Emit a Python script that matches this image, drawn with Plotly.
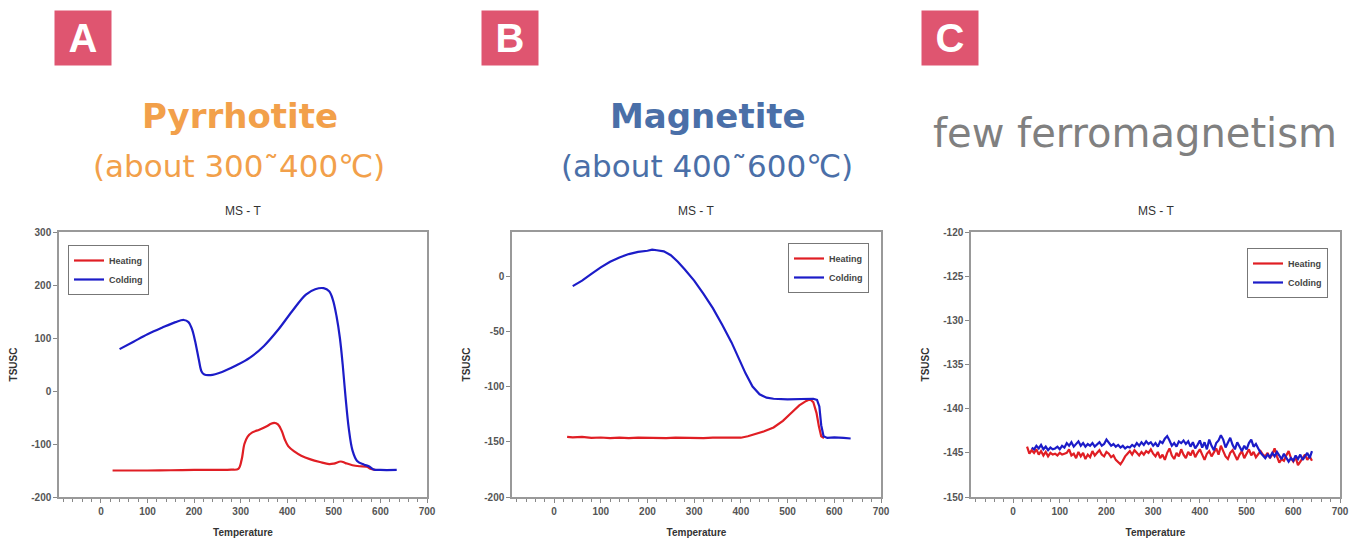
import plotly.graph_objects as go

# ---------------- data ----------------
# Panel A (Pyrrhotite)
a_heat_t = [25, 50, 100, 150, 200, 250, 280, 295, 302, 308, 315, 325, 340, 355, 365, 372, 380, 388, 395, 402,
            415, 430, 450, 470, 490, 500, 515, 525, 540, 555, 570, 580, 590]
a_heat_v = [-150, -150, -150, -149.5, -149, -149, -148.5, -147, -130, -100, -86, -78, -73, -67, -62, -60, -63, -75, -92, -104,
            -114, -122, -129, -134, -138, -137, -133, -136, -140, -142, -143, -147, -149]
a_cold_t = [40, 70, 100, 130, 160, 178, 188, 195, 202, 210, 216, 222, 235, 260, 290, 320, 350, 380, 410, 440,
            460, 478, 490, 498, 506, 513, 519, 525, 532, 540, 550, 565, 575, 585, 600, 635]
a_cold_v = [79, 93, 107, 119, 130, 134, 130, 118, 95, 60, 37, 31, 30, 36, 48, 63, 85, 115, 150, 182,
            192, 194, 188, 172, 140, 100, 50, -10, -70, -112, -132, -139, -142, -148, -149, -149]

# Panel B (Magnetite)
b_heat_t = [28, 40, 60, 80, 100, 120, 140, 160, 180, 200, 220, 240, 260, 280, 300, 320, 340, 360, 380, 400,
            415, 430, 450, 470, 490, 510, 525, 540, 548, 555, 562, 567, 572, 578]
b_heat_v = [-145.5, -146, -145.6, -146.5, -146.1, -146.6, -146.2, -146.7, -146.3, -146.5, -146.2, -146.6, -146.3, -146.5, -146.2, -146.6, -146.3, -146.1, -146.5, -146.3,
            -145, -143, -140.5, -137, -131, -123, -117, -113, -111.5, -114, -124, -136, -145, -146.5]
b_cold_t = [40, 60, 80, 100, 120, 140, 160, 180, 200, 210, 220, 235, 250, 265, 280, 300, 320, 340, 360, 380,
            395, 410, 425, 440, 455, 470, 500, 530, 555, 563, 568, 572, 577, 585, 600, 620, 635]
b_cold_v = [-9, -4, 2, 8, 13, 17, 20, 22, 23, 24, 23.5, 22.5, 19, 13, 6, -4, -16, -29, -44, -60,
            -74, -88, -100, -107, -110, -111, -111.5, -111, -111, -112, -118, -135, -145, -146.5, -146, -146.5, -147]

# Panel C (few ferromagnetism)
c_heat_t = [30, 35, 40, 45, 50, 55, 60, 65, 70, 75, 80, 85, 90, 95, 100, 105, 110, 115, 120, 125,
            130, 135, 140, 145, 150, 155, 160, 165, 170, 175, 180, 185, 190, 195, 200, 205, 210, 215, 220, 225,
            230, 235, 240, 245, 250, 255, 260, 265, 270, 275, 280, 285, 290, 295, 300, 305, 310, 315, 320, 325,
            330, 335, 340, 345, 350, 355, 360, 365, 370, 375, 380, 385, 390, 395, 400, 405, 410, 415, 420, 425,
            430, 435, 440, 445, 450, 455, 460, 465, 470, 475, 480, 485, 490, 495, 500, 505, 510, 515, 520, 525,
            530, 535, 540, 545, 550, 555, 560, 565, 570, 575, 580, 585, 590, 595, 600, 605, 610, 615, 620, 625,
            630, 635, 640]
c_heat_v = [-144.3, -145.1, -144.7, -145.0, -144.6, -145.2, -144.8, -145.3, -144.9, -145.4,
            -145.0, -145.2, -145.1, -145.3, -145.0, -145.2, -145.1, -145.0, -144.6, -145.3,
            -145.1, -145.6, -144.9, -145.4, -145.0, -145.7, -145.2, -145.5, -144.8, -145.3,
            -145.0, -144.7, -145.2, -145.4, -144.9, -145.1, -145.5, -145.3, -145.8, -146.0,
            -146.3, -145.9, -145.4, -145.1, -144.8, -145.2, -144.7, -145.0, -145.3, -144.9,
            -145.2, -144.8, -145.0, -144.6, -145.1, -145.4, -144.9, -145.6, -145.2, -145.8,
            -145.0, -144.5, -145.3, -145.7, -145.0, -145.4, -144.6, -145.2, -145.6, -144.9,
            -145.3, -144.7, -145.5, -145.0, -144.6, -145.2, -145.8, -145.1, -144.8, -145.4,
            -145.0, -144.5, -145.2, -144.2, -144.8, -145.4, -145.7, -145.0, -144.7, -145.3,
            -145.8, -145.2, -144.8, -145.6, -145.0, -144.6, -145.3, -144.9, -145.5, -145.1,
            -144.8, -145.2, -145.4, -145.0, -145.6, -145.2, -144.5, -145.4, -146.1, -145.7,
            -145.9, -145.3, -144.8, -145.6, -146.0, -145.5, -146.4, -146.0, -145.6, -145.2,
            -145.8, -145.4, -145.9]
c_cold_t = [40, 45, 50, 55, 60, 65, 70, 75, 80, 85, 90, 95, 100, 105, 110, 115, 120, 125,
            130, 135, 140, 145, 150, 155, 160, 165, 170, 175, 180, 185, 190, 195, 200, 205, 210, 215, 220, 225,
            230, 235, 240, 245, 250, 255, 260, 265, 270, 275, 280, 285, 290, 295, 300, 305, 310, 315, 320, 325,
            330, 335, 340, 345, 350, 355, 360, 365, 370, 375, 380, 385, 390, 395, 400, 405, 410, 415, 420, 425,
            430, 435, 440, 445, 450, 455, 460, 465, 470, 475, 480, 485, 490, 495, 500, 505, 510, 515, 520, 525,
            530, 535, 540, 545, 550, 555, 560, 565, 570, 575, 580, 585, 590, 595, 600, 605, 610, 615, 620, 625,
            630, 635, 640]
c_cold_v = [-144.4, -144.6, -144.2, -144.5, -144.1, -144.6, -144.3, -144.7, -144.4, -144.6,
            -144.5, -144.3, -144.6, -144.2, -144.4, -143.9, -144.2, -143.8,
            -144.3, -144.0, -143.7, -144.2, -143.9, -144.3, -144.0, -144.2, -143.9, -144.3,
            -144.1, -143.8, -144.2, -144.0, -143.5, -143.9, -144.2, -144.0, -144.3, -144.1,
            -144.4, -144.2, -144.5, -144.3, -144.4, -144.1, -144.3, -143.9, -144.2, -143.8,
            -144.1, -143.7, -144.0, -143.8, -144.2, -143.9, -144.3, -143.7, -143.9, -143.4,
            -143.1, -143.6, -144.2, -143.9, -144.3, -143.7, -143.9, -143.6, -144.0, -143.7,
            -144.3, -143.8, -144.5, -144.1, -143.6, -144.4, -143.8, -144.6, -143.5, -144.2,
            -144.7, -143.9, -143.6, -143.0, -143.5, -144.4, -143.9, -143.3, -144.1, -144.6,
            -143.8, -144.3, -144.8, -144.2, -144.6, -143.9, -143.5, -144.3, -144.0, -144.5,
            -145.0, -145.3, -145.6, -145.2, -145.5, -145.0, -145.4, -144.9, -145.3, -145.7,
            -145.1, -145.5, -146.0, -145.6, -145.9, -145.3, -145.7, -145.2, -145.8, -145.4,
            -145.0, -145.6, -144.8]

x_ticks = [0, 100, 200, 300, 400, 500, 600, 700]
y_ticks = [[-200, -100, 0, 100, 200, 300],
           [-200, -150, -100, -50, 0],
           [-150, -145, -140, -135, -130, -125, -120]]
y_ticklabels = [["-200", "-100", "0", "100", "200", "300"],
                ["-200", "-150", "-100", "-50", "0"],
                ["-150", "-145", "-140", "-135", "-130", "-125", "-120"]]
y_ranges = [[-200, 300], [-200, 40], [-150, -120]]

panel_letters = ["A", "B", "C"]
series_names = ["Heating", "Colding"]

# ---------------- styles ----------------
PAGE_W, PAGE_H = 1359, 540
OFF = 8  # default body margin of the html page
W, H = PAGE_W - OFF, PAGE_H - OFF


def px(xp):
    return (xp - OFF) / W


def py(yp):
    return 1 - (yp - OFF) / H


RED = "#E01E24"
BLUE = "#1C1CC8"
PINK = "#DF5570"
plot_px = [(59, 427), (512, 881), (971, 1340)]
top_px, bot_px = 232, 497
legend_px = [(68, 245), (788, 243), (1247, 248)]
letter_cx = [83, 510, 950]

fig = go.Figure()

data = [
    (a_heat_t, a_heat_v, a_cold_t, a_cold_v),
    (b_heat_t, b_heat_v, b_cold_t, b_cold_v),
    (c_heat_t, c_heat_v, c_cold_t, c_cold_v),
]

for i, (ht, hv, ct, cv) in enumerate(data):
    xa = "x" if i == 0 else f"x{i+1}"
    ya = "y" if i == 0 else f"y{i+1}"
    lg = "legend" if i == 0 else f"legend{i+1}"
    fig.add_trace(go.Scatter(x=ht, y=hv, mode="lines", name=series_names[0],
                             line=dict(color=RED, width=2.2, shape="spline" if i == 0 else "linear"),
                             xaxis=xa, yaxis=ya, legend=lg))
    fig.add_trace(go.Scatter(x=ct, y=cv, mode="lines", name=series_names[1],
                             line=dict(color=BLUE, width=2.2, shape="spline" if i == 0 else "linear"),
                             xaxis=xa, yaxis=ya, legend=lg))

FONT = "Liberation Sans, Arial"
axis_font = dict(family=FONT, size=10, color="#555555", weight="bold")
title_font = dict(family=FONT, size=10, color="#333333", weight="bold")
layout = dict(
    width=W, height=H, margin=dict(l=0, r=0, t=0, b=0, autoexpand=False),
    paper_bgcolor="white", plot_bgcolor="white",
    showlegend=True,
)
ydom = [py(bot_px), py(top_px)]
for i in range(3):
    sx = "" if i == 0 else str(i + 1)
    x0, x1 = plot_px[i]
    layout[f"xaxis{sx}"] = dict(
        domain=[px(x0), px(x1)], anchor=f"y{sx}", range=[-90, 700], automargin=False,
        tickvals=x_ticks, ticks="outside", ticklen=4, tickwidth=1, tickcolor="#888888",
        minor=dict(dtick=20, tick0=0, ticks="outside", ticklen=3, tickcolor="#888888", showgrid=False),
        showline=True, mirror=True, linecolor="#999999", linewidth=1.5,
        showgrid=False, zeroline=False, tickfont=axis_font,
        title=dict(text="Temperature", font=title_font, standoff=13),
    )
    layout[f"yaxis{sx}"] = dict(
        domain=ydom, anchor=f"x{sx}", range=y_ranges[i], automargin=False,
        tickvals=y_ticks[i], ticktext=y_ticklabels[i],
        ticks="outside", ticklen=4, tickwidth=1, tickcolor="#888888",
        showline=True, mirror=True, linecolor="#999999", linewidth=1.5,
        showgrid=False, zeroline=False, tickfont=axis_font,
        title=dict(text="TSUSC", font=title_font, standoff=12),
    )
    lx, ly = legend_px[i]
    lname = "legend" if i == 0 else f"legend{i+1}"
    layout[lname] = dict(
        x=px(lx), y=py(ly), xanchor="left", yanchor="top",
        bgcolor="white", bordercolor="#777777", borderwidth=1,
        font=dict(family=FONT, size=9, color="#444444", weight="bold"),
        tracegroupgap=0, itemwidth=30,
    )

fig.update_layout(**layout)

ann = []
for i in range(3):
    ann.append(dict(text=f"<b>{panel_letters[i]}</b>", x=px(letter_cx[i]), y=py(38), xref="paper", yref="paper",
                    showarrow=False, font=dict(family=FONT, size=40, color="white"),
                    bgcolor=PINK, width=54, height=52, xanchor="center", yanchor="middle"))
    x0, x1 = plot_px[i]
    ann.append(dict(text="MS - T", x=px((x0 + x1) / 2), y=py(211), xref="paper", yref="paper",
                    showarrow=False, font=dict(family=FONT, size=12, color="#333333"),
                    xanchor="center", yanchor="middle"))

TF = "DejaVu Sans"
ann += [
    dict(text="Pyrrhotite", x=px(240), y=py(116), font=dict(family=TF, size=34, color="#F2A04A", weight="bold")),
    dict(text="(about 300˜400℃)", x=px(239), y=py(166), font=dict(family=TF, size=31, color="#F2A04A")),
    dict(text="Magnetite", x=px(708), y=py(116), font=dict(family=TF, size=34, color="#4A6FA8", weight="bold")),
    dict(text="(about 400˜600℃)", x=px(707), y=py(166), font=dict(family=TF, size=31, color="#4A6FA8")),
    dict(text="few ferromagnetism", x=px(1135), y=py(133), font=dict(family=TF, size=40, color="#808080")),
]
for a in ann[-5:]:
    a.update(xref="paper", yref="paper", showarrow=False, xanchor="center", yanchor="middle")

fig.update_layout(annotations=ann)
fig.write_html("out.html")
